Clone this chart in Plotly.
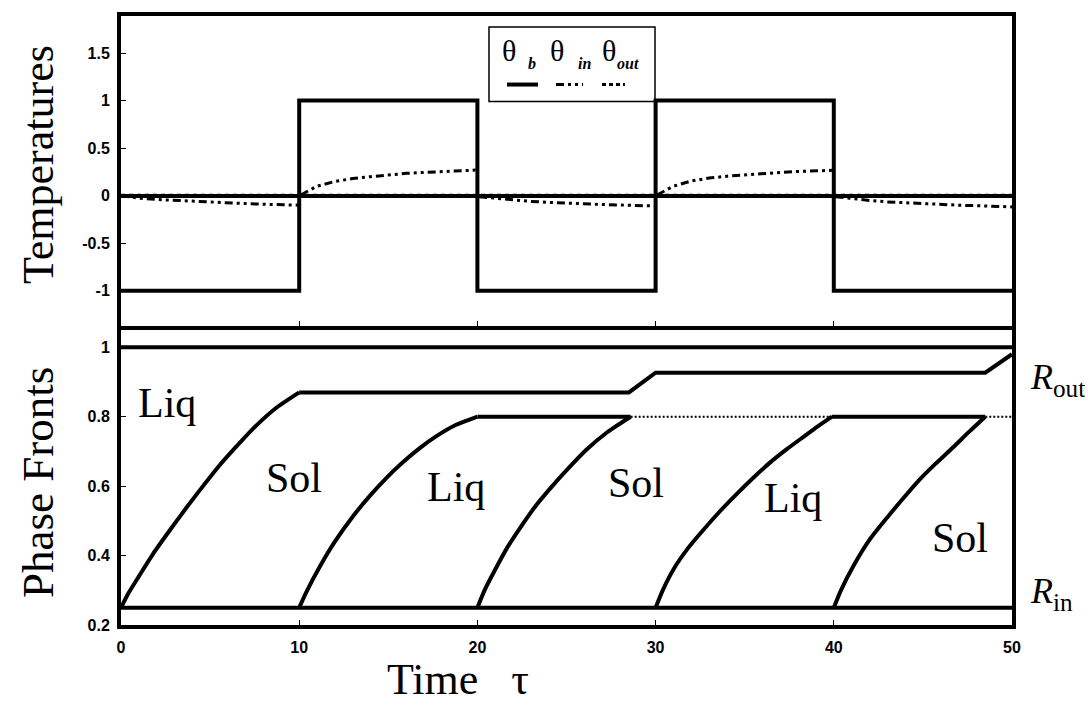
import plotly.graph_objects as go
from plotly.subplots import make_subplots

# ---------------- data ----------------
# boundary temperature (square wave, step after each point)
tau_b = [0, 10, 20, 30, 40, 50]
theta_b = [-1, 1, -1, 1, -1, -1]

# inner temperature (dash-dot-dot), segments separated by None
tau_in = [0, 1, 2, 3, 4, 5, 6, 7, 8, 9, 10, None,
          10.1, 10.5, 11, 12, 13, 14, 15, 16, 17, 18, 19, 20, None,
          20.1, 21, 22, 23, 24, 25, 26, 27, 28, 29, 30, None,
          30.1, 30.5, 31, 32, 33, 34, 35, 36, 37, 38, 39, 40, None,
          40.1, 41, 42, 43, 44, 45, 46, 47, 48, 49, 50]
theta_in = [0, -0.025, -0.04, -0.05, -0.06, -0.068, -0.076, -0.083, -0.09, -0.095, -0.1, None,
            0.01, 0.05, 0.1, 0.15, 0.18, 0.2, 0.22, 0.235, 0.245, 0.255, 0.263, 0.27, None,
            -0.01, -0.025, -0.045, -0.06, -0.07, -0.08, -0.087, -0.093, -0.098, -0.103, -0.108, None,
            0.01, 0.05, 0.1, 0.155, 0.185, 0.205, 0.22, 0.235, 0.245, 0.255, 0.262, 0.268, None,
            -0.01, -0.03, -0.05, -0.065, -0.075, -0.085, -0.093, -0.1, -0.105, -0.11, -0.118]

# outer temperature
tau_out = [0, 50]
theta_out = [0, 0]

# phase fronts: boundaries
tau_rout = [0, 50]
r_out = [1, 1]
tau_rin = [0, 50]
r_in = [0.25, 0.25]

# moving fronts (curved parts)
tau_f1 = [0, 0.4, 1, 1.8, 2.7, 3.7, 4.6, 5.5, 6.4, 7.4, 8.7, 10]
r_f1 = [0.25, 0.29, 0.34, 0.405, 0.47, 0.54, 0.6, 0.658, 0.71, 0.765, 0.825, 0.87]
tau_f2 = [10, 10.4, 11.2, 12, 13, 14, 14.9, 15.8, 16.8, 17.7, 18.7, 20]
r_f2 = [0.25, 0.295, 0.372, 0.44, 0.512, 0.574, 0.624, 0.668, 0.711, 0.744, 0.774, 0.8]
tau_f3 = [20, 20.4, 21, 21.7, 22.4, 23.3, 24.2, 25.1, 26.1, 27.3, 28.6]
r_f3 = [0.25, 0.3, 0.36, 0.425, 0.48, 0.545, 0.6, 0.651, 0.704, 0.756, 0.8]
tau_f4 = [30, 30.4, 31, 31.8, 32.7, 33.6, 34.6, 35.5, 36.4, 37.4, 38.3, 39.1, 39.9]
r_f4 = [0.25, 0.3, 0.36, 0.42, 0.475, 0.527, 0.58, 0.625, 0.667, 0.708, 0.742, 0.772, 0.8]
tau_f5 = [40, 40.4, 41.1, 42, 43, 43.9, 44.8, 45.7, 46.7, 47.6, 48.5]
r_f5 = [0.25, 0.3, 0.37, 0.445, 0.51, 0.565, 0.618, 0.664, 0.712, 0.757, 0.8]

# plateaus (straight parts)
tau_p1 = [10, 28.5, 30, 48.5, 50]
r_p1 = [0.87, 0.87, 0.927, 0.927, 0.98]
tau_p2 = [20, 28.6, None, 39.9, 48.5]
r_p2 = [0.8, 0.8, None, 0.8, 0.8]
tau_dot = [28.6, 39.9, None, 48.5, 50]
r_dot = [0.8, 0.8, None, 0.8, 0.8]

x_ticks = [0, 10, 20, 30, 40, 50]
temp_ticks = [-1, -0.5, 0, 0.5, 1, 1.5]
temp_tick_text = ["-1", "-0.5", "0", "0.5", "1", "1.5"]
front_ticks = [0.2, 0.4, 0.6, 0.8, 1]
front_tick_text = ["0.2", "0.4", "0.6", "0.8", "1"]

phase_labels = ["Liq", "Sol", "Liq", "Sol", "Liq", "Sol"]
phase_label_tau = [2.6, 9.7, 18.8, 28.9, 37.7, 47.1]
phase_label_r = [0.84, 0.624, 0.598, 0.61, 0.567, 0.45]

# ---------------- figure ----------------
W, H = 1088, 710
ML, MR, MT, MB = 121, 76, 12, 85
PW, PH = W - ML - MR, H - MT - MB


def px(xp):
    return (xp - ML) / PW


def py(yp):
    return (H - MB - yp) / PH


fig = make_subplots(rows=2, cols=1, vertical_spacing=0)

BLK = "black"
fig.add_trace(go.Scatter(x=tau_out, y=theta_out, mode="lines",
                         line=dict(color=BLK, width=4, dash="dot"),
                         name="θout", showlegend=False), row=1, col=1)
fig.add_trace(go.Scatter(x=tau_in, y=theta_in, mode="lines", connectgaps=False,
                         line=dict(color=BLK, width=3, dash="8px,4px,3px,4px,3px,4px"),
                         name="θin", showlegend=False), row=1, col=1)
fig.add_trace(go.Scatter(x=tau_b, y=theta_b, mode="lines", line_shape="hv",
                         line=dict(color=BLK, width=4),
                         name="θb", showlegend=False), row=1, col=1)

solid = dict(color=BLK, width=4)
for tx, ry, nm in [(tau_rout, r_out, "Rout"), (tau_rin, r_in, "Rin"),
                   (tau_p1, r_p1, "p1"), (tau_p2, r_p2, "p2")]:
    fig.add_trace(go.Scatter(x=tx, y=ry, mode="lines", line=solid, name=nm,
                             connectgaps=False, showlegend=False), row=2, col=1)
for tx, ry, nm in [(tau_f1, r_f1, "f1"), (tau_f2, r_f2, "f2"), (tau_f3, r_f3, "f3"),
                   (tau_f4, r_f4, "f4"), (tau_f5, r_f5, "f5")]:
    fig.add_trace(go.Scatter(x=tx, y=ry, mode="lines",
                             line=dict(color=BLK, width=4, shape="spline", smoothing=0.6),
                             name=nm, showlegend=False), row=2, col=1)
fig.add_trace(go.Scatter(x=tau_dot, y=r_dot, mode="lines", connectgaps=False,
                         line=dict(color=BLK, width=2, dash="2px,2px"),
                         name="dotted", showlegend=False), row=2, col=1)

tickfont = dict(family="Liberation Sans, Arial", size=16, color=BLK, weight="bold")
axis_common = dict(showline=True, linewidth=4, linecolor=BLK, mirror=True,
                   showgrid=False, ticks="inside", ticklen=5, tickwidth=1,
                   tickcolor=BLK, tickfont=tickfont)

fig.update_xaxes(range=[0, 50], tickvals=x_ticks, showticklabels=False,
                 zeroline=False, **axis_common, row=1, col=1)
fig.update_xaxes(range=[0, 50], tickvals=x_ticks, ticktext=[str(v) for v in x_ticks],
                 zeroline=False, ticklabelstandoff=5, **axis_common, row=2, col=1)
fig.update_yaxes(range=[-1.37, 1.89], tickvals=temp_ticks, ticktext=temp_tick_text,
                 domain=[py(324), 1],
                 zeroline=True, zerolinewidth=4, zerolinecolor=BLK,
                 ticklabelstandoff=4, **axis_common, row=1, col=1)
fig.update_yaxes(range=[0.2, 1.05], tickvals=front_ticks, ticktext=front_tick_text,
                 domain=[0, py(328)],
                 zeroline=False, ticklabelstandoff=4, **axis_common, row=2, col=1)

serif = "Liberation Serif, Times New Roman, serif"
C = dict(xanchor="center", yanchor="middle", showarrow=False)
ann = []
# axis titles
ann.append(dict(text="Temperatures", x=px(38), y=py(162), xref="paper", yref="paper",
                textangle=-90, font=dict(family=serif, size=44, color=BLK), **C))
ann.append(dict(text="Phase Fronts", x=px(38), y=py(482), xref="paper", yref="paper",
                textangle=-90, font=dict(family=serif, size=45, color=BLK), **C))
ann.append(dict(text="Time   τ", x=px(458), y=py(680), xref="paper", yref="paper",
                font=dict(family=serif, size=44, color=BLK), **C))
# phase labels
for t, tx, ry in zip(phase_labels, phase_label_tau, phase_label_r):
    ann.append(dict(text=t, x=tx, y=ry, xref="x2", yref="y2",
                    font=dict(family=serif, size=42, color=BLK), **C))
# radius labels
ann.append(dict(text="<i>R</i><sub>out</sub>", x=px(1028), y=py(378), xref="paper",
                yref="paper", xanchor="left", yanchor="middle", showarrow=False,
                font=dict(family=serif, size=36, color=BLK)))
ann.append(dict(text="<i>R</i><sub>in</sub>", x=px(1028), y=py(593), xref="paper",
                yref="paper", xanchor="left", yanchor="middle", showarrow=False,
                font=dict(family=serif, size=36, color=BLK)))
# legend text
for sym, xc in [("θ", 509), ("θ", 557), ("θ", 609)]:
    ann.append(dict(text=sym, x=px(xc), y=py(47), xref="paper", yref="paper",
                    font=dict(family=serif, size=30, color=BLK), **C))
for sub, xc in [("b", 532), ("in", 584), ("out", 628)]:
    ann.append(dict(text="<i>" + sub + "</i>", x=px(xc), y=py(60), xref="paper", yref="paper",
                    font=dict(family=serif, size=16, color=BLK, weight="bold"), **C))

shapes = []
shapes.append(dict(type="rect", xref="paper", yref="paper", x0=px(489), x1=px(655),
                   y0=py(98), y1=py(23), line=dict(color=BLK, width=1.5),
                   fillcolor="white", layer="below"))
shapes.append(dict(type="line", xref="paper", yref="paper", x0=px(507), x1=px(538),
                   y0=py(81), y1=py(81), line=dict(color=BLK, width=4)))
shapes.append(dict(type="line", xref="paper", yref="paper", x0=px(556), x1=px(583),
                   y0=py(81), y1=py(81), line=dict(color=BLK, width=3, dash="8px,4px,3px,4px,3px,4px")))
shapes.append(dict(type="line", xref="paper", yref="paper", x0=px(602), x1=px(625),
                   y0=py(81), y1=py(81), line=dict(color=BLK, width=3, dash="4px,3px")))

fig.update_layout(width=W, height=H, margin=dict(l=ML, r=MR, t=MT, b=MB),
                  paper_bgcolor="white", plot_bgcolor="white", showlegend=False,
                  annotations=ann, shapes=shapes)

fig.write_html("out.html")
